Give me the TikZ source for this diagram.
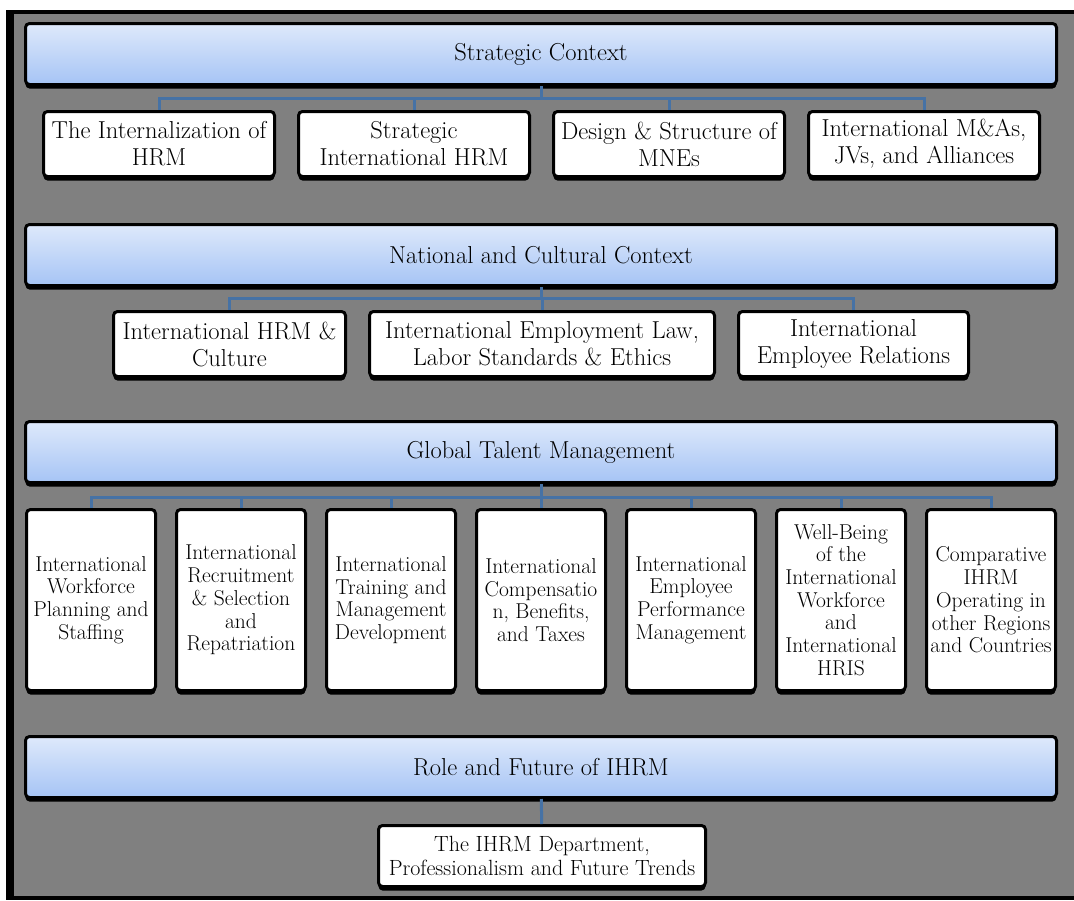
\documentclass[tikz,border=0pt]{standalone}
\usepackage{tikz}
\usetikzlibrary{positioning}
\usetikzlibrary{shadows}
\definecolor{framegray}{RGB}{128,128,128}
\definecolor{headtop}{RGB}{222,233,251}
\definecolor{headbot}{RGB}{166,196,245}
\definecolor{linkblue}{RGB}{70,114,165}
\tikzstyle{header} = [rectangle, rounded corners=4pt, minimum width=1031pt, minimum height=61pt, text centered, draw=black, line width=3pt, top color=headtop, bottom color=headbot, drop shadow={shadow xshift=0pt, shadow yshift=-4pt, fill=black, opacity=1}, font=\fontsize{24.5}{27}\selectfont]
\tikzstyle{topic} = [rectangle, rounded corners=4pt, minimum height=65pt, align=center, draw=black, line width=3pt, fill=white, inner sep=1pt, drop shadow={shadow xshift=0pt, shadow yshift=-4pt, fill=black, opacity=1}, font=\fontsize{24.5}{27}\selectfont]
\tikzstyle{talent} = [topic, minimum width=129pt, minimum height=181pt, font=\fontsize{21.5}{22.7}\selectfont]
\tikzstyle{link} = [line width=3pt, draw=linkblue]

\begin{document}
\begin{tikzpicture}[x=1pt, y=-1pt]
    \useasboundingbox (0,0) rectangle (1074,900);
    % Frame
    \fill [black] (6,10) rectangle (1074,900);
    \fill [framegray] (14,14) rectangle (1074,896);
    % Nodes
    \node (strat) [header] at (541,54) {Strategic Context};
    \node (sc1) [topic, minimum width=231pt] at (159,144) {The Internalization of\\HRM};
    \node (sc2) [topic, minimum width=231pt, right=21pt of sc1] {Strategic\\International HRM};
    \node (sc3) [topic, minimum width=231pt, right=21pt of sc2] {Design \& Structure of\\MNEs};
    \node (sc4) [topic, minimum width=231pt, right=21pt of sc3] {International M\&As,\\JVs, and Alliances};

    \node (natl) [header] at (541,255) {National and Cultural Context};
    \node (nc1) [topic, minimum width=232pt] at (229.5,344) {International HRM \&\\Culture};
    \node (nc2) [topic, minimum width=345pt, right=21pt of nc1] {International Employment Law,\\Labor Standards \& Ethics};
    \node (nc3) [topic, minimum width=230pt, right=21pt of nc2] {International\\Employee Relations};

    \node (talent) [header] at (541,452) {Global Talent Management};
    \node (gt1) [talent] at (91,600) {International\\Workforce\\Planning and\\Staffing};
    \node (gt2) [talent, right=18pt of gt1] {International\\Recruitment\\\& Selection\\and\\Repatriation};
    \node (gt3) [talent, right=18pt of gt2] {International\\Training and\\Management\\Development};
    \node (gt4) [talent, right=18pt of gt3] {International\\Compensatio\\n, Benefits,\\and Taxes};
    \node (gt5) [talent, right=18pt of gt4] {International\\Employee\\Performance\\Management};
    \node (gt6) [talent, right=18pt of gt5] {Well-Being\\of the\\International\\Workforce\\and\\International\\HRIS};
    \node (gt7) [talent, right=18pt of gt6] {Comparative\\IHRM\\Operating in\\other Regions\\and Countries};

    \node (role) [header] at (541,767) {Role and Future of IHRM};
    \node (dept) [topic, minimum width=327pt, minimum height=61pt, font=\fontsize{22}{23.5}\selectfont] at (542,856) {The IHRM Department,\\Professionalism and Future Trends};
    % Arrows
    \coordinate (bus1) at (541,98);
    \coordinate (bus2) at (541,298);
    \coordinate (bus3) at (541,497);
    \draw [link] (strat) -- (bus1);
    \foreach \n in {sc1,sc2,sc3,sc4}
        \draw [link] (\n.north) |- (bus1);
    \draw [link] (natl) -- (bus2);
    \foreach \n in {nc1,nc2,nc3}
        \draw [link] (\n.north) |- (bus2);
    \draw [link] (talent) -- (bus3);
    \foreach \n in {gt1,gt2,gt3,gt4,gt5,gt6,gt7}
        \draw [link] (\n.north) |- (bus3);
    \draw [link] (role) -- (dept);
\end{tikzpicture}
\end{document}
